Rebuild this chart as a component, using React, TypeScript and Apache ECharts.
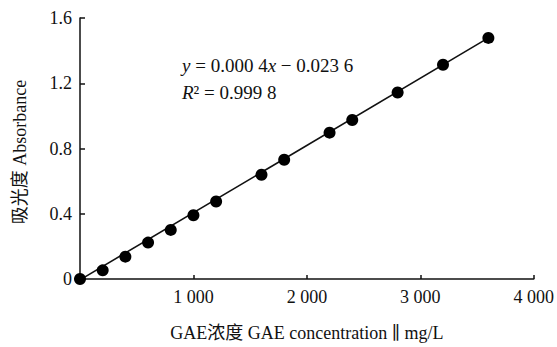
import React, { useEffect, useRef } from "react";
import * as echarts from "echarts";

const concentrations = [0, 200, 400, 600, 800, 1000, 1200, 1600, 1800, 2200, 2400, 2800, 3200, 3600];
const absorbance = [0.0, 0.053, 0.137, 0.223, 0.301, 0.391, 0.475, 0.639, 0.731, 0.897, 0.975, 1.143, 1.313, 1.478];
const fitX = [0, 3600];
const fitY = [-0.005, 1.478];
const xTicks = [0, 1000, 2000, 3000, 4000];
const yTicks = [0, 0.4, 0.8, 1.2, 1.6];
const xAxisTitle = "GAE浓度 GAE concentration ∥ mg/L";
const yAxisTitle = "吸光度 Absorbance";
const equationLine = "{i|y} = 0.000 4{i|x} − 0.023 6";
const r2Line = "{i|R}² = 0.999 8";

const FONT = "'Liberation Serif', 'DejaVu Serif', 'Noto Sans CJK SC', serif";

export default function App() {
  const ref = useRef<HTMLDivElement>(null);
  useEffect(() => {
    if (!ref.current) return;
    const chart = echarts.init(ref.current, undefined, { renderer: "svg" });
    const fmtX = (v: number) => {
      if (v === 0) return "";
      const s = String(v);
      return s.length > 3 ? s.slice(0, s.length - 3) + " " + s.slice(-3) : s;
    };
    chart.setOption({
      animation: false,
      backgroundColor: "#ffffff",
      grid: { left: 80, top: 18, right: 23, bottom: 63, containLabel: false },
      xAxis: {
        type: "value",
        min: xTicks[0],
        max: xTicks[xTicks.length - 1],
        interval: 1000,
        name: xAxisTitle,
        nameLocation: "middle",
        nameGap: 45,
        nameTextStyle: { fontFamily: FONT, fontSize: 18, color: "#111" },
        axisLine: { show: true, lineStyle: { color: "#111", width: 1.5 } },
        axisTick: { show: true, inside: true, length: 4, lineStyle: { color: "#111", width: 1.5 } },
        axisLabel: { formatter: fmtX, fontFamily: FONT, fontSize: 18, color: "#111", margin: 9 },
        splitLine: { show: false },
      },
      yAxis: {
        type: "value",
        min: yTicks[0],
        max: yTicks[yTicks.length - 1],
        interval: 0.4,
        axisLine: { show: true, lineStyle: { color: "#111", width: 1.5 } },
        axisTick: { show: true, inside: true, length: 5, lineStyle: { color: "#111", width: 1.5 } },
        axisLabel: {
          formatter: (v: number) => (v === 0 ? "0" : v.toFixed(1)),
          fontFamily: FONT,
          fontSize: 18,
          color: "#111",
          margin: 8,
        },
        splitLine: { show: false },
      },
      graphic: [
        {
          type: "text",
          x: 20,
          y: 152,
          rotation: Math.PI / 2,
          style: {
            text: yAxisTitle,
            fontFamily: FONT,
            fontSize: 18,
            fill: "#111",
            align: "center",
            verticalAlign: "middle",
          },
        },
        {
          type: "text",
          left: 182,
          top: 56,
          style: {
            text: equationLine,
            fontFamily: FONT,
            fontSize: 19,
            fill: "#111",
            rich: { i: { fontStyle: "italic", fontFamily: FONT, fontSize: 19, fill: "#111" } },
          },
        },
        {
          type: "text",
          left: 182,
          top: 83,
          style: {
            text: r2Line,
            fontFamily: FONT,
            fontSize: 19,
            fill: "#111",
            rich: { i: { fontStyle: "italic", fontFamily: FONT, fontSize: 19, fill: "#111" } },
          },
        },
      ],
      series: [
        {
          type: "line",
          data: fitX.map((x, i) => [x, fitY[i]]),
          showSymbol: false,
          symbol: "none",
          lineStyle: { color: "#111", width: 1.6 },
          z: 2,
        },
        {
          type: "scatter",
          data: concentrations.map((x, i) => [x, absorbance[i]]),
          symbol: "circle",
          symbolSize: 12,
          itemStyle: { color: "#000", opacity: 1 },
          z: 3,
        },
      ],
    });
    return () => chart.dispose();
  }, []);
  return <div ref={ref} style={{ width: 557, height: 347, position: "absolute", left: 0, top: 0 }} />;
}
